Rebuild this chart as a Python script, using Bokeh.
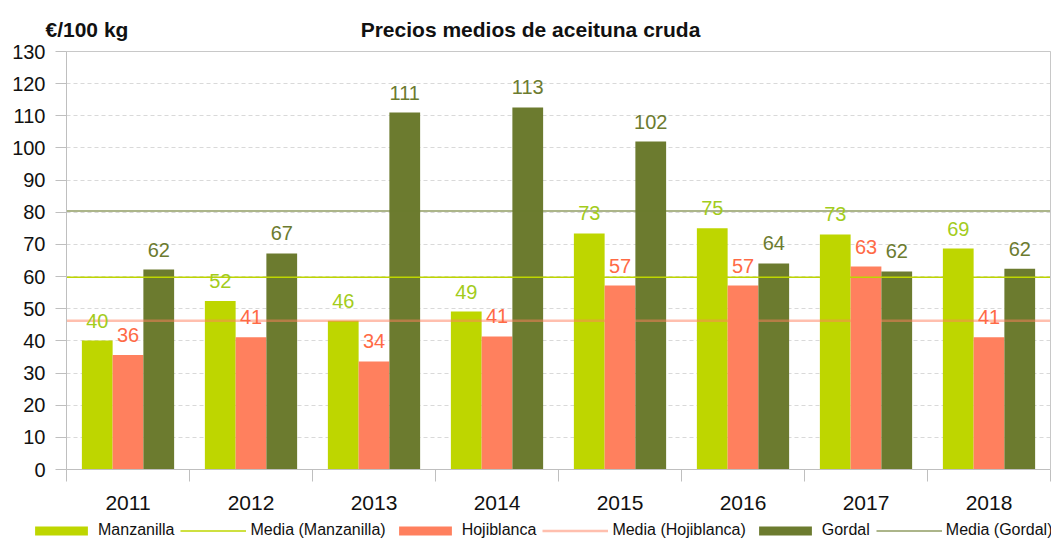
from bokeh.plotting import figure
from bokeh.models import (Range1d, FixedTicker, ColumnDataSource, Legend, LegendItem, Label, LinearAxis)
from bokeh.transform import dodge
from bokeh.core.properties import value
from bokeh.embed import file_html
from bokeh.resources import INLINE

# ---- data ----
years = ["2011", "2012", "2013", "2014", "2015", "2016", "2017", "2018"]
manzanilla = [40.1, 52.4, 46.3, 49.1, 73.4, 75.0, 73.1, 68.7]
hojiblanca = [35.6, 41.1, 33.6, 41.4, 57.2, 57.2, 63.1, 41.1]
gordal = [62.2, 67.2, 111.0, 112.6, 102.0, 64.1, 61.6, 62.4]
y_ticks = [0, 10, 20, 30, 40, 50, 60, 70, 80, 90, 100, 110, 120, 130]
series_names = ["Manzanilla", "Hojiblanca", "Gordal"]
title_text = "Precios medios de aceituna cruda"
unit_text = "€/100 kg"

# ---- styles / layout (pixels) ----
C_MAN = "#bed600"
C_HOJ = "#ff805e"
C_GOR = "#6c7b2f"
L_MAN = "#a3cc1c"
L_HOJ = "#ff6a45"
L_GOR = "#6c7b2f"
AX = "#bfbfbf"
FONT = "Liberation Sans"
W, H = 1051, 539
PL, PR, PT, PB = 66, 1050, 51, 469   # chart area edges in canvas pixels

n = len(years)
centers = [i + 0.5 for i in range(n)]
ymin, ymax = y_ticks[0], y_ticks[-1]
kx = (PR - PL) / n
ky = (PB - PT) / (ymax - ymin)

def mean(v):
    return sum(v) / len(v)

src = ColumnDataSource(dict(
    x=centers,
    man=manzanilla, hoj=hojiblanca, gor=gordal,
    man_l=[f"{v:.0f}" for v in manzanilla],
    hoj_l=[f"{v:.0f}" for v in hojiblanca],
    gor_l=[f"{v:.0f}" for v in gordal],
))

p = figure(width=W, height=H,
           x_range=Range1d(-PL / kx, n + (W - PR) / kx),
           y_range=Range1d(ymin - (H - PB) / ky, ymax + PT / ky),
           output_backend="svg", toolbar_location=None, title=None,
           x_axis_location=None, y_axis_location=None,
           min_border_left=0, min_border_right=0, min_border_top=0, min_border_bottom=0)
p.background_fill_color = "white"
p.border_fill_color = "white"
p.outline_line_color = None
p.grid.visible = False

# gridlines (drawn as inward ticks of a label-less axis, limited to the chart area)
gax = LinearAxis(fixed_location=0, bounds=(ymin, ymax), ticker=FixedTicker(ticks=y_ticks),
                 major_label_overrides={t: "" for t in y_ticks},
                 axis_line_color=None, major_tick_in=PR - PL, major_tick_out=0,
                 major_tick_line_color="#d9d9d9", major_tick_line_dash="4 3",
                 minor_tick_out=0, minor_tick_in=0, level="underlay")
p.add_layout(gax, "left")

# y axis
ya = LinearAxis(fixed_location=0, bounds=(ymin, ymax), ticker=FixedTicker(ticks=y_ticks),
                axis_line_color=AX, major_tick_line_color=AX, major_tick_out=11, major_tick_in=0,
                minor_tick_out=0, minor_tick_in=0,
                major_label_text_font=FONT, major_label_text_font_size="20px",
                major_label_text_color="#111111", major_label_standoff=10)
p.add_layout(ya, "left")

# x axis (labels centred on categories, ticks on boundaries)
xa = LinearAxis(fixed_location=ymin, bounds=(0, n),
                ticker=FixedTicker(ticks=centers, minor_ticks=list(range(n + 1))),
                major_label_overrides={c: y for c, y in zip(centers, years)},
                axis_line_color=AX, major_tick_out=0, major_tick_in=0,
                minor_tick_out=12, minor_tick_in=0, minor_tick_line_color=AX,
                major_label_text_font=FONT, major_label_text_font_size="21px",
                major_label_text_color="#111111", major_label_standoff=14)
p.add_layout(xa, "below")

# top and right border of the chart area
tax = LinearAxis(fixed_location=ymax, bounds=(0, n), ticker=FixedTicker(ticks=[]),
                 axis_line_color="#c8c8c8", major_tick_out=0, minor_tick_out=0)
p.add_layout(tax, "above")
rax = LinearAxis(fixed_location=n, bounds=(ymin, ymax), ticker=FixedTicker(ticks=[]),
                 axis_line_color="#c8c8c8", major_tick_out=0, minor_tick_out=0)
p.add_layout(rax, "right")

# bars
w = 0.25
r_man = p.vbar(x=dodge("x", -w, range=p.x_range), top="man", width=w, source=src,
               fill_color=C_MAN, line_color=None)
r_hoj = p.vbar(x="x", top="hoj", width=w, source=src, fill_color=C_HOJ, line_color=None)
r_gor = p.vbar(x=dodge("x", w, range=p.x_range), top="gor", width=w, source=src,
               fill_color=C_GOR, line_color=None)

# mean lines
xs = [0, n]
m_man = mean(manzanilla)
m_hoj = mean(hojiblanca)
m_gor = mean(gordal)
r_mman = p.line(x=xs, y=[m_man, m_man], line_color=C_MAN, line_width=1.5)
r_mhoj = p.line(x=xs, y=[m_hoj, m_hoj], line_color=C_HOJ, line_alpha=0.5, line_width=2.5)
r_mgor = p.line(x=xs, y=[m_gor, m_gor], line_color=C_GOR, line_alpha=0.75, line_width=1.5)

# value labels
for off, col, lcol in [(-w, "man", L_MAN), (0, "hoj", L_HOJ), (w, "gor", L_GOR)]:
    p.text(x=dodge("x", off, range=p.x_range), y=col, text=col + "_l", source=src,
           text_align="center", text_baseline="alphabetic", y_offset=-20,
           text_font=value(FONT), text_font_size="20px", text_color=lcol)

# titles
p.add_layout(Label(x=45, y=H - 29, x_units="screen", y_units="screen", text=unit_text,
                   text_font=FONT, text_font_style="bold", text_font_size="21px",
                   text_color="#111111", text_baseline="alphabetic", text_align="left"))
p.add_layout(Label(x=530, y=H - 29, x_units="screen", y_units="screen", text=title_text,
                   text_font=FONT, text_font_style="bold", text_font_size="21px",
                   text_color="#111111", text_baseline="alphabetic", text_align="center"))

legend = Legend(items=[
    LegendItem(label=series_names[0], renderers=[r_man]),
    LegendItem(label="Media (" + series_names[0] + ")", renderers=[r_mman]),
    LegendItem(label=series_names[1], renderers=[r_hoj]),
    LegendItem(label="Media (" + series_names[1] + ")", renderers=[r_mhoj]),
    LegendItem(label=series_names[2], renderers=[r_gor]),
    LegendItem(label="Media (" + series_names[2] + ")", renderers=[r_mgor]),
], orientation="horizontal", location=(28, 0), glyph_width=66, glyph_height=11,
    label_standoff=4, spacing=6, padding=0, margin=0,
    border_line_color=None, background_fill_alpha=0,
    label_text_font=FONT, label_text_font_size="16px", label_text_color="#111111")
p.add_layout(legend)

open("out.html", "w").write(file_html(p, INLINE))
